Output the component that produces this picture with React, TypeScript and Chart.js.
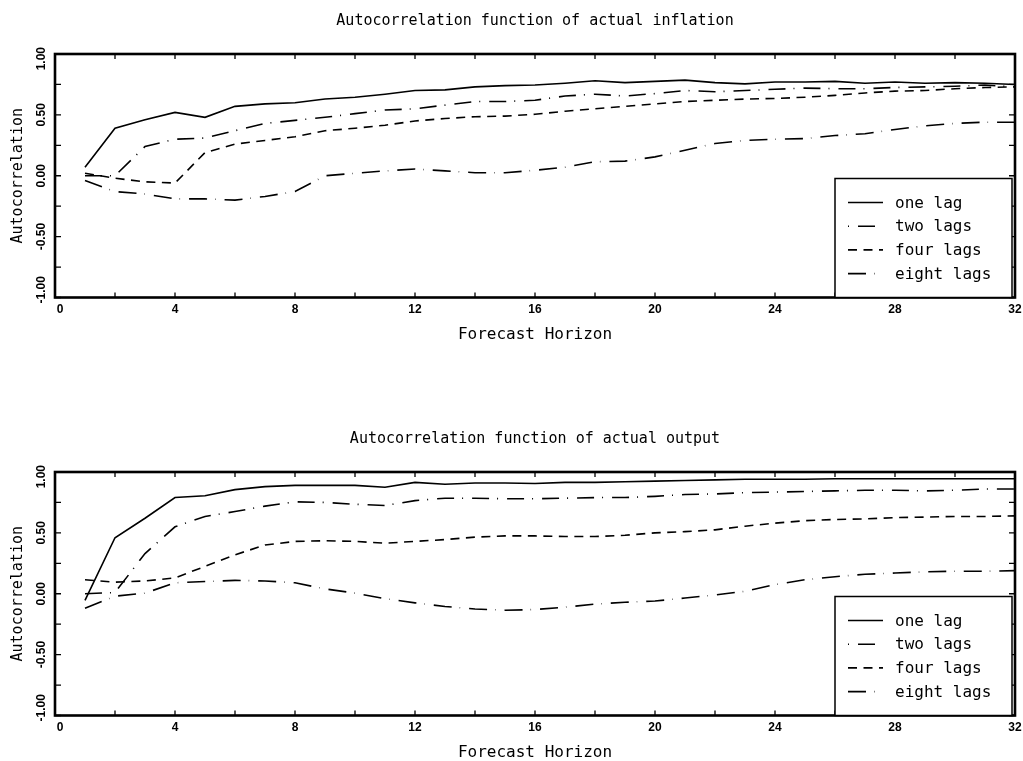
import React, { useEffect, useRef } from "react";
import { Chart, registerables } from "chart.js";

Chart.register(...registerables);

const HORIZON = [1, 2, 3, 4, 5, 6, 7, 8, 9, 10, 11, 12, 13, 14, 15, 16, 17, 18, 19, 20, 21, 22, 23, 24, 25, 26, 27, 28, 29, 30, 31, 32];
const SERIES_LABELS = ["one lag", "two lags", "four lags", "eight lags"];
const SERIES_DASH = [[], [17, 8, 1, 9], [9, 6.5], [18, 8, 0.5, 9]];

const INFL_ONE = [0.07, 0.39, 0.46, 0.52, 0.48, 0.57, 0.59, 0.6, 0.63, 0.645, 0.67, 0.7, 0.705, 0.73, 0.74, 0.745, 0.76, 0.78, 0.765, 0.775, 0.785, 0.765, 0.755, 0.77, 0.77, 0.775, 0.76, 0.77, 0.76, 0.765, 0.76, 0.75];
const INFL_TWO = [0.0, 0.0, 0.24, 0.3, 0.31, 0.37, 0.43, 0.455, 0.48, 0.51, 0.54, 0.55, 0.58, 0.61, 0.61, 0.62, 0.655, 0.67, 0.655, 0.675, 0.7, 0.69, 0.7, 0.71, 0.72, 0.715, 0.715, 0.725, 0.73, 0.735, 0.745, 0.73];
const INFL_FOUR = [0.02, -0.02, -0.05, -0.06, 0.19, 0.26, 0.29, 0.32, 0.37, 0.39, 0.415, 0.45, 0.47, 0.485, 0.49, 0.505, 0.53, 0.55, 0.57, 0.59, 0.61, 0.62, 0.63, 0.635, 0.645, 0.66, 0.68, 0.695, 0.7, 0.715, 0.725, 0.73];
const INFL_EIGHT = [-0.04, -0.13, -0.15, -0.19, -0.19, -0.2, -0.17, -0.13, 0.0, 0.02, 0.04, 0.055, 0.04, 0.025, 0.025, 0.045, 0.07, 0.115, 0.12, 0.155, 0.21, 0.265, 0.29, 0.3, 0.305, 0.33, 0.345, 0.38, 0.41, 0.43, 0.44, 0.44];

const OUT_ONE = [-0.055, 0.46, 0.62, 0.79, 0.805, 0.855, 0.88, 0.89, 0.89, 0.89, 0.875, 0.915, 0.9, 0.91, 0.91, 0.905, 0.915, 0.915, 0.92, 0.925, 0.93, 0.935, 0.94, 0.94, 0.94, 0.945, 0.945, 0.945, 0.945, 0.945, 0.945, 0.945];
const OUT_TWO = [0.0, 0.01, 0.33, 0.55, 0.635, 0.675, 0.72, 0.755, 0.75, 0.735, 0.725, 0.765, 0.785, 0.785, 0.78, 0.78, 0.785, 0.79, 0.79, 0.8, 0.815, 0.82, 0.83, 0.835, 0.84, 0.845, 0.85, 0.85, 0.845, 0.85, 0.86, 0.86];
const OUT_FOUR = [0.115, 0.095, 0.105, 0.13, 0.225, 0.32, 0.4, 0.43, 0.435, 0.43, 0.415, 0.43, 0.445, 0.465, 0.475, 0.475, 0.47, 0.47, 0.48, 0.5, 0.51, 0.525, 0.555, 0.58, 0.6, 0.61, 0.615, 0.625, 0.63, 0.635, 0.635, 0.64];
const OUT_EIGHT = [-0.12, -0.02, 0.005, 0.09, 0.1, 0.11, 0.105, 0.09, 0.04, 0.005, -0.04, -0.075, -0.105, -0.125, -0.135, -0.13, -0.11, -0.085, -0.07, -0.06, -0.035, -0.01, 0.02, 0.075, 0.115, 0.14, 0.16, 0.17, 0.18, 0.185, 0.185, 0.19];

const TITLES = ["Autocorrelation function of actual inflation", "Autocorrelation function of actual output"];
const X_TITLE = "Forecast Horizon";
const Y_TITLE = "Autocorrelation";
const X_TICK_LABELS = ["0", "4", "8", "12", "16", "20", "24", "28", "32"];
const Y_TICK_LABELS = ["-1.00", "-0.50", "0.00", "0.50", "1.00"];
const X_MINOR_STEP = 2;
const Y_MINOR_STEP = 0.25;

const MONO = '"DejaVu Sans Mono", "Liberation Mono", monospace';
const TICKFONT = '"Liberation Sans", Arial, sans-serif';

const W = 1023;
const H = 343;

const framePlugin = {
  id: "framePlugin",
  afterDraw(chart: any) {
    const { ctx, chartArea } = chart;
    const { left, right, top, bottom } = chartArea;
    const xs = chart.scales.x;
    const ys = chart.scales.y;
    ctx.save();
    ctx.strokeStyle = "#000";
    ctx.fillStyle = "#000";
    ctx.setLineDash([]);
    // inward ticks
    ctx.lineWidth = 1.3;
    ctx.beginPath();
    for (let v = xs.min; v <= xs.max + 1e-9; v += X_MINOR_STEP) {
      const px = xs.getPixelForValue(v);
      ctx.moveTo(px, bottom);
      ctx.lineTo(px, bottom - 5);
      ctx.moveTo(px, top);
      ctx.lineTo(px, top + 5);
    }
    for (let v = ys.min; v <= ys.max + 1e-9; v += Y_MINOR_STEP) {
      const py = ys.getPixelForValue(v);
      ctx.moveTo(left, py);
      ctx.lineTo(left + 6, py);
      ctx.moveTo(right, py);
      ctx.lineTo(right - 6, py);
    }
    ctx.stroke();
    // frame
    ctx.lineWidth = 2.6;
    ctx.strokeRect(left, top, right - left, bottom - top);
    // tick labels
    ctx.font = `bold 12px ${TICKFONT}`;
    ctx.textAlign = "center";
    ctx.textBaseline = "middle";
    for (const lab of X_TICK_LABELS) {
      const v = Number(lab);
      let px = xs.getPixelForValue(v);
      if (v === xs.min) px += 5;
      ctx.fillText(lab, px, bottom + 12.5);
    }
    for (const lab of Y_TICK_LABELS) {
      const v = Number(lab);
      let py = ys.getPixelForValue(v);
      const w = ctx.measureText(lab).width;
      py = Math.min(Math.max(py, top - 7 + w / 2), bottom + 6 - w / 2);
      ctx.save();
      ctx.translate(left - 13, py);
      ctx.rotate(-Math.PI / 2);
      ctx.fillText(lab, 0, 0);
      ctx.restore();
    }
    // legend box
    const bw = 177;
    const bh = 119;
    const bx = right - 180;
    const by = bottom - bh;
    ctx.fillStyle = "#fff";
    ctx.fillRect(bx, by, bw, bh);
    ctx.lineWidth = 1.5;
    ctx.strokeStyle = "#000";
    ctx.strokeRect(bx, by, bw, bh);
    ctx.font = `16px ${MONO}`;
    ctx.textAlign = "left";
    ctx.textBaseline = "middle";
    chart.data.datasets.forEach((ds: any, i: number) => {
      const ry = by + 24 + i * 23.7;
      ctx.save();
      ctx.lineWidth = 1.6;
      ctx.setLineDash(ds.borderDash || []);
      ctx.lineDashOffset = i === 1 ? 25 : 0;
      ctx.beginPath();
      ctx.moveTo(bx + 13, ry);
      ctx.lineTo(bx + 48, ry);
      ctx.stroke();
      ctx.restore();
      ctx.fillStyle = "#000";
      ctx.fillText(ds.label, bx + 60, ry + 1);
    });
    ctx.restore();
  },
};

function Panel({ title, series, top }: { title: string; series: number[][]; top: number }) {
  const ref = useRef<HTMLCanvasElement | null>(null);
  useEffect(() => {
    if (!ref.current) return;
    const datasets = series.map((vals, i) => ({
      label: SERIES_LABELS[i],
      data: HORIZON.map((h, j) => ({ x: h, y: vals[j] })),
      borderColor: "#000",
      borderWidth: 1.6,
      borderDash: SERIES_DASH[i],
      pointRadius: 0,
      tension: 0,
      fill: false,
    }));
    const chart = new Chart(ref.current, {
      type: "line",
      data: { datasets },
      plugins: [framePlugin],
      options: {
        animation: false,
        responsive: false,
        devicePixelRatio: 1,
        layout: { padding: { left: 0, right: 8, top: 0, bottom: 0 } },
        plugins: {
          legend: { display: false },
          tooltip: { enabled: false },
          title: {
            display: true,
            text: title,
            fullSize: false,
            color: "#000",
            font: { family: MONO, size: 15, weight: "normal", lineHeight: 1.2 },
            padding: { top: 12, bottom: 24 },
          },
        },
        scales: {
          x: {
            type: "linear",
            min: 0,
            max: 32,
            grid: { display: false, drawTicks: false },
            border: { display: false },
            ticks: { display: false, stepSize: X_MINOR_STEP },
            title: {
              display: true,
              text: X_TITLE,
              color: "#000",
              font: { family: MONO, size: 16, lineHeight: 1 },
              padding: { top: 0, bottom: 0 },
            },
            afterFit: (s: any) => {
              s.height = 45.5;
            },
          },
          y: {
            type: "linear",
            min: -1,
            max: 1,
            grid: { display: false, drawTicks: false },
            border: { display: false },
            ticks: { display: false, stepSize: Y_MINOR_STEP },
            title: {
              display: true,
              text: Y_TITLE,
              color: "#000",
              font: { family: MONO, size: 15, lineHeight: 1 },
              padding: { top: 11, bottom: 0 },
            },
            afterFit: (s: any) => {
              s.width = 55;
            },
          },
        },
      } as any,
    });
    return () => chart.destroy();
  }, [title, series]);
  return (
    <div style={{ position: "absolute", left: 0, top, width: W, height: H }}>
      <canvas ref={ref} width={W} height={H} style={{ width: W, height: H, display: "block" }} />
    </div>
  );
}

const INFL_SERIES = [INFL_ONE, INFL_TWO, INFL_FOUR, INFL_EIGHT];
const OUT_SERIES = [OUT_ONE, OUT_TWO, OUT_FOUR, OUT_EIGHT];

export default function App() {
  return (
    <div style={{ position: "fixed", left: 0, top: 0, width: 1023, height: 761, background: "#fff", overflow: "hidden" }}>
      <Panel title={TITLES[0]} series={INFL_SERIES} top={0} />
      <Panel title={TITLES[1]} series={OUT_SERIES} top={418} />
    </div>
  );
}
